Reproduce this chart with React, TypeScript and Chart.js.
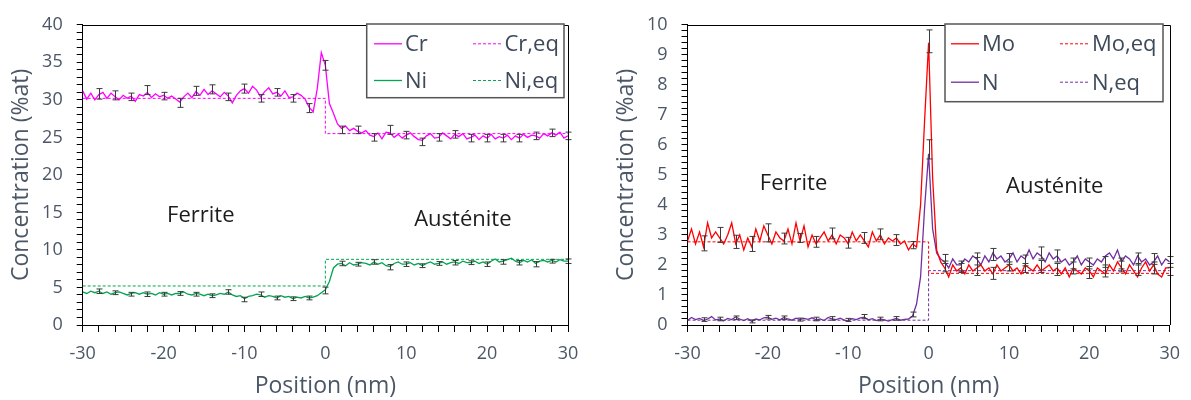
import React, { useEffect, useRef } from 'react';
import { Chart, registerables } from 'chart.js';

Chart.register(...registerables);

// ---------- DATA ----------
const positions = [
  -30, -29.5, -29, -28.5, -28, -27.5, -27, -26.5, -26, -25.5,
  -25, -24.5, -24, -23.5, -23, -22.5, -22, -21.5, -21, -20.5,
  -20, -19.5, -19, -18.5, -18, -17.5, -17, -16.5, -16, -15.5,
  -15, -14.5, -14, -13.5, -13, -12.5, -12, -11.5, -11, -10.5,
  -10, -9.5, -9, -8.5, -8, -7.5, -7, -6.5, -6, -5.5,
  -5, -4.5, -4, -3.5, -3, -2.5, -2, -1.5, -1, -0.5,
  0, 0.5, 1, 1.5, 2, 2.5, 3, 3.5, 4, 4.5,
  5, 5.5, 6, 6.5, 7, 7.5, 8, 8.5, 9, 9.5,
  10, 10.5, 11, 11.5, 12, 12.5, 13, 13.5, 14, 14.5,
  15, 15.5, 16, 16.5, 17, 17.5, 18, 18.5, 19, 19.5,
  20, 20.5, 21, 21.5, 22, 22.5, 23, 23.5, 24, 24.5,
  25, 25.5, 26, 26.5, 27, 27.5, 28, 28.5, 29, 29.5,
  30,
];

const crValues = [
  31.2, 30.1, 30.9, 30.0, 30.7, 31.0, 30.2, 30.9, 30.4, 30.0,
  30.6, 30.2, 30.5, 29.8, 30.7, 30.5, 31.0, 30.3, 30.8, 30.4,
  30.6, 30.2, 30.5, 30.1, 29.7, 30.4, 30.9, 30.3, 31.1, 30.6,
  31.4, 30.7, 31.2, 30.8, 30.4, 31.0, 30.5, 29.6, 30.6, 31.2,
  31.5, 30.9, 31.8, 31.3, 30.4, 31.1, 31.6, 30.8, 31.0, 30.5,
  31.2, 30.3, 30.4, 30.9, 30.6, 30.1, 29.0, 28.4, 31.5, 36.3,
  34.6, 29.5, 28.2, 26.8, 26.2, 26.5, 25.9, 26.2, 25.8, 25.6,
  25.9, 25.3, 25.1, 25.6, 24.8, 25.7, 25.6, 25.0, 25.4, 24.9,
  25.3, 25.6, 25.1, 24.7, 24.6, 25.2, 25.5, 24.9, 25.0, 25.6,
  25.2, 24.8, 25.4, 25.1, 25.5, 24.8, 25.0, 25.3, 24.7, 25.2,
  24.9, 25.4, 24.8, 25.1, 24.9, 25.3, 24.7, 25.2, 24.9, 25.4,
  25.0, 25.3, 25.2, 24.9, 25.5, 25.2, 25.6, 25.3, 25.7, 24.9,
  25.2,
];

const niValues = [
  4.4, 4.2, 4.5, 4.3, 4.5, 4.2, 4.4, 4.1, 4.3, 4.4,
  4.2, 4.0, 4.2, 4.3, 4.1, 4.3, 4.1, 4.2, 4.0, 4.3,
  4.1, 4.2, 4.0, 4.2, 4.2, 4.4, 4.1, 4.0, 4.2, 4.1,
  3.9, 4.1, 3.9, 4.0, 4.2, 4.1, 4.4, 4.0, 3.8, 3.9,
  3.5, 3.8, 3.9, 4.1, 4.0, 3.7, 3.9, 3.8, 3.6, 3.9,
  3.7, 3.8, 3.5, 3.7, 3.6, 3.8, 3.6, 3.7, 3.9, 4.3,
  4.7, 5.8, 7.6, 8.1, 8.2, 7.9, 8.3, 8.0, 8.1, 8.3,
  8.2, 8.0, 8.4, 8.1, 8.3, 7.9, 7.8, 8.2, 8.4, 8.1,
  8.1, 8.3, 8.0, 8.2, 7.9, 8.2, 8.4, 8.1, 8.2, 8.4,
  8.1, 8.3, 8.4, 8.2, 8.5, 8.3, 8.3, 8.5, 8.2, 8.4,
  8.1, 8.5, 8.8, 8.4, 8.5, 8.7, 8.9, 8.5, 8.3, 8.6,
  8.4, 8.7, 8.2, 8.5, 8.6, 8.4, 8.6, 8.4, 8.7, 8.5,
  8.5,
];

const moValues = [
  2.8, 3.2, 2.7, 3.1, 2.6, 3.4, 2.9, 3.1, 2.9, 2.7,
  3.0, 3.4, 2.7, 3.0, 2.5, 2.9, 2.6, 3.2, 2.8, 3.3,
  3.0, 2.7, 3.1, 2.9, 2.8, 3.2, 2.7, 3.4, 2.8, 3.3,
  2.6, 3.0, 2.7, 2.9, 3.1, 2.8, 3.0, 2.7, 3.0, 2.9,
  2.7, 3.1, 2.8, 3.0, 2.8, 2.6, 3.1, 2.8, 3.0, 2.7,
  2.9, 2.8, 2.9, 2.7, 2.8, 2.5, 2.7, 2.6, 4.0, 6.8,
  9.4, 4.9, 2.5, 2.1, 1.9, 1.6, 2.0, 1.8, 1.9, 1.7,
  2.0, 1.8, 1.9, 2.0, 1.8, 1.9, 1.7, 2.0, 1.8, 1.9,
  2.0, 1.8, 1.9, 1.7, 2.0, 1.9, 1.8, 2.0, 1.8, 1.9,
  2.0, 1.8, 1.9, 1.7, 1.9, 1.6, 1.9, 1.8, 1.7, 1.9,
  1.8, 1.6, 1.9, 1.8, 1.7, 2.0, 1.8, 2.1, 1.9, 1.7,
  2.0, 1.8, 1.6, 1.9, 2.1, 1.8, 2.0, 1.7, 1.6, 1.9,
  1.9,
];

const nValues = [
  0.15, 0.25, 0.18, 0.22, 0.15, 0.2, 0.28, 0.17, 0.2, 0.14,
  0.22, 0.18, 0.27, 0.2, 0.15, 0.21, 0.12, 0.2, 0.17, 0.24,
  0.26, 0.19, 0.23, 0.17, 0.25, 0.2, 0.16, 0.23, 0.18, 0.22,
  0.19, 0.24, 0.17, 0.2, 0.15, 0.25, 0.2, 0.18, 0.23, 0.16,
  0.14, 0.21, 0.18, 0.24, 0.26, 0.17, 0.21, 0.15, 0.2, 0.17,
  0.13, 0.18, 0.22, 0.16, 0.19, 0.2, 0.3, 0.7, 1.6, 3.9,
  5.7, 3.2, 2.4, 2.2, 2.1, 1.9, 2.2, 2.0, 2.0, 2.2,
  2.1, 2.3, 2.2, 2.0, 2.3, 2.1, 2.4, 2.2, 2.3, 2.1,
  2.2, 2.4, 2.1, 2.3, 2.2, 2.5, 2.2, 2.4, 2.3, 2.1,
  2.4, 2.2, 2.3, 2.1, 2.2, 2.0, 2.1, 2.3, 2.0, 2.2,
  2.1, 2.0, 2.2, 2.1, 2.3, 2.4, 2.2, 2.5, 2.1, 2.3,
  2.2, 2.0, 2.3, 2.1, 2.2, 2.0, 2.1, 2.3, 2.0, 2.2,
  2.1,
];

// equilibrium step profiles
const eqX = [-30, 0, 0, 30];
const crEq = [30.2, 30.2, 25.5, 25.5];
const niEq = [5.2, 5.2, 8.75, 8.75];
const moEq = [2.77, 2.77, 1.72, 1.72];
const nEq = [0.16, 0.16, 1.81, 1.81];

// error bars (every 2 nm)
const errX = [
  -28, -26, -24, -22, -20, -18, -16, -14, -12, -10, -8, -6, -4, -2, 0,
  2, 4, 6, 8, 10, 12, 14, 16, 18, 20, 22, 24, 26, 28, 30,
];
const crErrY = [
  30.8, 30.6, 30.4, 31.3, 30.5, 29.6, 31.2, 31.4, 30.4, 31.5, 30.2, 31.0, 30.2, 28.9, 34.6,
  26.0, 26.0, 25.0, 26.0, 25.3, 24.4, 25.0, 25.4, 24.9, 24.9, 24.9, 24.9, 25.2, 25.6, 25.2,
];
const crErrHalf = [
  0.7, 0.6, 0.5, 0.6, 0.5, 0.6, 0.6, 0.6, 0.5, 0.6, 0.5, 0.5, 0.5, 0.6, 0.65,
  0.5, 0.5, 0.5, 0.6, 0.5, 0.5, 0.5, 0.5, 0.5, 0.5, 0.5, 0.5, 0.5, 0.5, 0.5,
];
const niErrY = [
  4.5, 4.3, 4.1, 4.1, 4.1, 4.2, 4.1, 3.9, 4.4, 3.4, 4.1, 3.6, 3.5, 3.6, 4.6,
  8.2, 8.1, 8.4, 7.7, 8.1, 7.9, 8.2, 8.3, 8.3, 8.1, 8.4, 8.3, 8.1, 8.5, 8.5,
];
const niErrHalf = [
  0.3, 0.25, 0.25, 0.3, 0.25, 0.25, 0.25, 0.25, 0.3, 0.3, 0.3, 0.25, 0.25, 0.25, 0.45,
  0.3, 0.25, 0.3, 0.35, 0.3, 0.25, 0.25, 0.3, 0.25, 0.3, 0.3, 0.3, 0.35, 0.25, 0.3,
];
const moErrY = [
  2.72, 3.0, 2.77, 2.7, 3.07, 2.88, 2.9, 2.77, 3.05, 2.74, 2.9, 3.02, 2.83, 2.66, 9.45,
  1.95, 1.9, 1.95, 1.72, 1.95, 1.9, 1.95, 1.85, 1.9, 1.75, 1.8, 1.95, 1.85, 1.9, 1.85,
];
const moErrHalf = [
  0.25, 0.25, 0.22, 0.25, 0.3, 0.18, 0.15, 0.18, 0.18, 0.18, 0.18, 0.18, 0.18, 0.12, 0.38,
  0.18, 0.15, 0.3, 0.2, 0.15, 0.15, 0.2, 0.2, 0.2, 0.2, 0.2, 0.18, 0.2, 0.2, 0.2,
];
const nErrY = [
  0.18, 0.2, 0.24, 0.12, 0.26, 0.24, 0.18, 0.2, 0.22, 0.17, 0.28, 0.2, 0.22, 0.35, 5.85,
  2.2, 1.95, 2.2, 2.35, 2.2, 2.15, 2.4, 2.3, 2.05, 2.05, 2.1, 2.05, 2.2, 2.2, 2.1,
];
const nErrHalf = [
  0.06, 0.06, 0.06, 0.05, 0.06, 0.06, 0.05, 0.06, 0.06, 0.05, 0.07, 0.06, 0.06, 0.08, 0.32,
  0.15, 0.18, 0.2, 0.2, 0.18, 0.18, 0.2, 0.2, 0.18, 0.18, 0.18, 0.18, 0.2, 0.18, 0.18,
];

// tick labels
const xTickLabels = [-30, -20, -10, 0, 10, 20, 30];
const leftYTickLabels = [0, 5, 10, 15, 20, 25, 30, 35, 40];
const rightYTickLabels = [0, 1, 2, 3, 4, 5, 6, 7, 8, 9, 10];

// ---------- STYLE ----------
const FONT = "'Open Sans', sans-serif";
const AXIS_TEXT = '#4B5767';
const LEGEND_TEXT = '#3E4A5A';
const ERR_COLOR = '#3a3a3a';

const C_CR = '#FF00FF';
const C_NI = '#00A651';
const C_MO = '#FF0000';
const C_N = '#7030A0';

function series(xs: number[], ys: number[]) {
  return xs.map((x, i) => ({ x, y: ys[i] }));
}

function lineDs(label: string, color: string, xs: number[], ys: number[]) {
  return {
    label,
    data: series(xs, ys),
    borderColor: color,
    backgroundColor: color,
    borderWidth: 1.3,
    pointRadius: 0,
    tension: 0,
    fill: false,
  };
}
function eqDs(label: string, color: string, xs: number[], ys: number[]) {
  return {
    label,
    data: series(xs, ys),
    borderColor: color,
    backgroundColor: color,
    borderWidth: 1,
    borderDash: [3, 2],
    pointRadius: 0,
    tension: 0,
    fill: false,
  };
}

type ErrSet = { ys: number[]; half: number[] };

function errorBarPlugin(sets: ErrSet[]) {
  return {
    id: 'errorBars',
    afterDatasetsDraw(chart: any) {
      const { ctx, scales } = chart;
      const xs = scales.x;
      const ys = scales.y;
      ctx.save();
      ctx.strokeStyle = ERR_COLOR;
      ctx.lineWidth = 1;
      ctx.setLineDash([]);
      sets.forEach((s) => {
        errX.forEach((xv, i) => {
          const px = Math.round(xs.getPixelForValue(xv)) + 0.5;
          const y1 = ys.getPixelForValue(s.ys[i] - s.half[i]);
          const y2 = ys.getPixelForValue(s.ys[i] + s.half[i]);
          ctx.beginPath();
          ctx.moveTo(px, y1);
          ctx.lineTo(px, y2);
          ctx.moveTo(px - 3, y1);
          ctx.lineTo(px + 3, y1);
          ctx.moveTo(px - 3, y2);
          ctx.lineTo(px + 3, y2);
          ctx.stroke();
        });
      });
      ctx.restore();
    },
  };
}

function framePlugin() {
  return {
    id: 'frame',
    afterDraw(chart: any) {
      const { ctx, chartArea } = chart;
      ctx.save();
      ctx.strokeStyle = '#000';
      ctx.lineWidth = 1;
      ctx.setLineDash([]);
      ctx.beginPath();
      ctx.moveTo(chartArea.left, Math.round(chartArea.top) + 0.5);
      ctx.lineTo(Math.round(chartArea.right) + 0.5, Math.round(chartArea.top) + 0.5);
      ctx.lineTo(Math.round(chartArea.right) + 0.5, chartArea.bottom);
      ctx.stroke();
      ctx.restore();
    },
  };
}

type RegionLabel = { text: string; x: number; y: number };
function regionPlugin(labels: RegionLabel[]) {
  return {
    id: 'regions',
    afterDraw(chart: any) {
      const { ctx, scales } = chart;
      ctx.save();
      ctx.font = `22px ${FONT}`;
      ctx.fillStyle = '#1c1c1c';
      ctx.textAlign = 'center';
      ctx.textBaseline = 'alphabetic';
      labels.forEach((l) => {
        const px = scales.x.getPixelForValue(l.x);
        const py = scales.y.getPixelForValue(l.y);
        ctx.fillText(l.text, px, py + 8);
      });
      ctx.restore();
    },
  };
}

type LegendLayout = {
  box: { x: number; y: number; w: number; h: number };
  cols: { line: number; text: number }[];
  rows: number[];
};
function legendPlugin(L: LegendLayout) {
  return {
    id: 'boxLegend',
    afterDraw(chart: any) {
      const { ctx } = chart;
      ctx.save();
      ctx.fillStyle = '#fff';
      ctx.fillRect(L.box.x, L.box.y, L.box.w, L.box.h);
      ctx.strokeStyle = '#555';
      ctx.lineWidth = 1.5;
      ctx.setLineDash([]);
      ctx.strokeRect(L.box.x, L.box.y, L.box.w, L.box.h);
      ctx.font = `22px ${FONT}`;
      ctx.textAlign = 'left';
      ctx.textBaseline = 'alphabetic';
      chart.data.datasets.forEach((ds: any, i: number) => {
        const col = L.cols[i % 2];
        const y = L.rows[Math.floor(i / 2)];
        ctx.strokeStyle = ds.borderColor;
        ctx.lineWidth = ds.borderWidth;
        ctx.setLineDash(ds.borderDash || []);
        ctx.beginPath();
        ctx.moveTo(col.line, y + 0.5);
        ctx.lineTo(col.text - 3, y + 0.5);
        ctx.stroke();
        ctx.fillStyle = LEGEND_TEXT;
        ctx.fillText(ds.label, col.text, y + 8);
      });
      ctx.restore();
    },
  };
}

function buildOptions(p: {
  yMax: number;
  yStep: number;
  yLabels: number[];
  yWidth: number;
  padRight: number;
  titlePad: number;
}) {
  const tickFont = { family: FONT, size: 18 };
  const titleFont = { family: FONT, size: 23 };
  return {
    animation: false,
    responsive: false,
    maintainAspectRatio: false,
    layout: { padding: { left: 0, top: 18, right: p.padRight, bottom: 0 } },
    plugins: { legend: { display: false }, tooltip: { enabled: false } },
    elements: { point: { radius: 0 } },
    scales: {
      x: {
        type: 'linear',
        min: -30,
        max: 30,
        afterFit: (s: any) => {
          s.height = 75;
        },
        ticks: {
          stepSize: 2,
          autoSkip: false,
          maxRotation: 0,
          padding: 11,
          color: AXIS_TEXT,
          font: tickFont,
          callback: (v: number) =>
            xTickLabels.some((l) => Math.abs(l - v) < 1e-6) ? String(Math.round(v)) : '',
        },
        grid: { drawOnChartArea: false, drawTicks: true, tickLength: 7, color: '#000', lineWidth: 1 },
        border: { display: true, color: '#000', width: 1 },
        title: {
          display: true,
          text: 'Position (nm)',
          color: AXIS_TEXT,
          font: titleFont,
          padding: { top: 0, bottom: 0 },
        },
      },
      y: {
        type: 'linear',
        min: 0,
        max: p.yMax,
        afterFit: (s: any) => {
          s.width = p.yWidth;
        },
        ticks: {
          stepSize: p.yStep,
          autoSkip: false,
          padding: 14,
          color: AXIS_TEXT,
          font: tickFont,
          callback: (v: number) => {
            const hit = p.yLabels.find((l) => Math.abs(l - v) < 1e-6);
            return hit === undefined ? '' : String(hit);
          },
        },
        grid: { drawOnChartArea: false, drawTicks: true, tickLength: 6, color: '#000', lineWidth: 1 },
        border: { display: true, color: '#000', width: 1 },
        title: {
          display: true,
          text: 'Concentration (%at)',
          color: AXIS_TEXT,
          font: titleFont,
          padding: { top: p.titlePad, bottom: 0 },
        },
      },
    },
  };
}

export default function App() {
  const leftRef = useRef<HTMLCanvasElement>(null);
  const rightRef = useRef<HTMLCanvasElement>(null);

  useEffect(() => {
    const left = new Chart(leftRef.current as HTMLCanvasElement, {
      type: 'line',
      data: {
        datasets: [
          lineDs('Cr', C_CR, positions, crValues),
          eqDs('Cr,eq', C_CR, eqX, crEq),
          lineDs('Ni', C_NI, positions, niValues),
          eqDs('Ni,eq', C_NI, eqX, niEq),
        ],
      },
      options: buildOptions({
        yMax: 40,
        yStep: 1,
        yLabels: leftYTickLabels,
        yWidth: 82.7,
        padRight: 27,
        titlePad: 8,
      }) as any,
      plugins: [
        errorBarPlugin([
          { ys: crErrY, half: crErrHalf },
          { ys: niErrY, half: niErrHalf },
        ]),
        framePlugin(),
        regionPlugin([
          { text: 'Ferrite', x: -15.4, y: 14.8 },
          { text: 'Austénite', x: 17.0, y: 14.3 },
        ]),
        legendPlugin({
          box: { x: 366.7, y: 24, w: 197.3, h: 73.7 },
          cols: [
            { line: 374, text: 405 },
            { line: 473, text: 504.5 },
          ],
          rows: [43.3, 80],
        }),
      ],
    });

    const right = new Chart(rightRef.current as HTMLCanvasElement, {
      type: 'line',
      data: {
        datasets: [
          lineDs('Mo', C_MO, positions, moValues),
          eqDs('Mo,eq', C_MO, eqX, moEq),
          lineDs('N', C_N, positions, nValues),
          eqDs('N,eq', C_N, eqX, nEq),
        ],
      },
      options: buildOptions({
        yMax: 10,
        yStep: 0.2,
        yLabels: rightYTickLabels,
        yWidth: 92.5,
        padRight: 17.4,
        titlePad: 18,
      }) as any,
      plugins: [
        errorBarPlugin([
          { ys: moErrY, half: moErrHalf },
          { ys: nErrY, half: nErrHalf },
        ]),
        framePlugin(),
        regionPlugin([
          { text: 'Ferrite', x: -16.8, y: 4.78 },
          { text: 'Austénite', x: 15.7, y: 4.67 },
        ]),
        legendPlugin({
          box: { x: 350, y: 24, w: 218, h: 77.7 },
          cols: [
            { line: 356, text: 387 },
            { line: 465, text: 497 },
          ],
          rows: [43.3, 81.7],
        }),
      ],
    });

    return () => {
      left.destroy();
      right.destroy();
    };
  }, []);

  return (
    <div style={{ position: 'absolute', left: 0, top: 0, width: 1191, height: 400, background: '#fff' }}>
      <canvas
        ref={leftRef}
        width={595}
        height={400}
        style={{ position: 'absolute', left: 0, top: 0, width: 595, height: 400 }}
      />
      <canvas
        ref={rightRef}
        width={596}
        height={400}
        style={{ position: 'absolute', left: 595, top: 0, width: 596, height: 400 }}
      />
    </div>
  );
}
